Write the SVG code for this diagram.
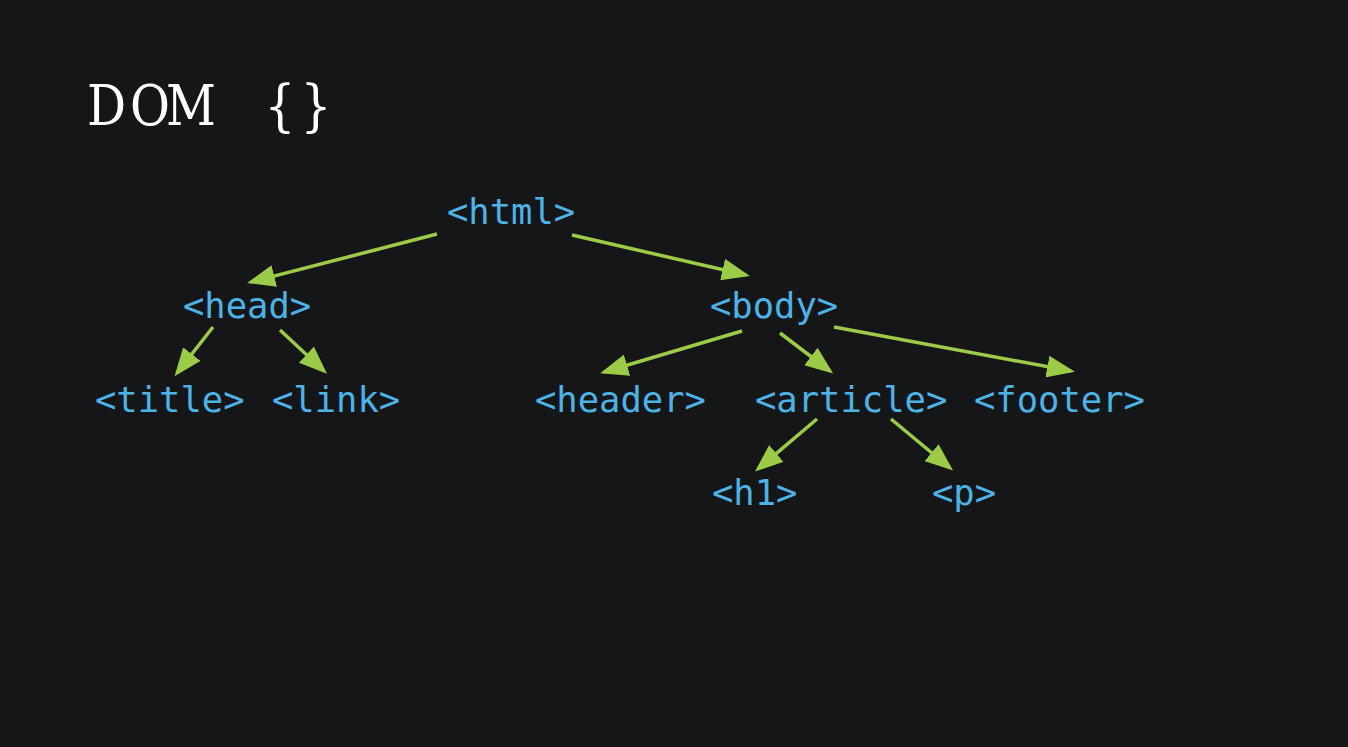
<svg xmlns="http://www.w3.org/2000/svg" width="1348" height="747" viewBox="0 0 1348 747">
<defs>
<style>
.bg{fill:#151618}
.title{font-family:"DejaVu Serif","Liberation Serif",serif;font-size:56px;fill:#ffffff;text-anchor:middle}
.tag{font-family:"DejaVu Sans Mono","Liberation Mono",monospace;font-size:35.5px;fill:#4db3e6}
.edge{stroke:#9ccb48;stroke-width:3.5;fill:none;marker-end:url(#arr)}
</style>
<marker id="arr" viewBox="0 0 28 22" refX="24" refY="11" markerWidth="28" markerHeight="22" markerUnits="userSpaceOnUse" orient="auto">
<path d="M0,0 L28,11 L0,22 z" fill="#9ccb48"/>
</marker>
</defs>
<rect class="bg" x="0" y="0" width="1348" height="747"/>
<text class="title" transform="translate(88,125) scale(0.87,1)" x="21.3 71.3 118.4 220.7 262.1" y="0">DOM{}</text>
<g id="connectors">
<line class="edge" x1="437" y1="234" x2="251" y2="282"/>
<line class="edge" x1="572" y1="235" x2="746" y2="275"/>
<line class="edge" x1="213" y1="327" x2="177" y2="373"/>
<line class="edge" x1="280" y1="330" x2="324" y2="371"/>
<line class="edge" x1="742" y1="331" x2="604" y2="372"/>
<line class="edge" x1="780" y1="333" x2="830" y2="371"/>
<line class="edge" x1="834" y1="327" x2="1071" y2="371"/>
<line class="edge" x1="817" y1="419" x2="758" y2="469"/>
<line class="edge" x1="891" y1="419" x2="950" y2="468"/>
</g>
<g id="html"><text class="tag" x="447" y="224">&lt;html&gt;</text></g>
<g id="head"><text class="tag" x="183" y="318">&lt;head&gt;</text></g>
<g id="body"><text class="tag" x="710" y="318">&lt;body&gt;</text></g>
<g id="title"><text class="tag" x="95" y="412">&lt;title&gt;</text></g>
<g id="link"><text class="tag" x="272" y="412">&lt;link&gt;</text></g>
<g id="header"><text class="tag" x="535" y="412">&lt;header&gt;</text></g>
<g id="article"><text class="tag" x="755" y="412">&lt;article&gt;</text></g>
<g id="footer"><text class="tag" x="974" y="412">&lt;footer&gt;</text></g>
<g id="h1"><text class="tag" x="712" y="505">&lt;h1&gt;</text></g>
<g id="p"><text class="tag" x="932" y="505">&lt;p&gt;</text></g>
</svg>
